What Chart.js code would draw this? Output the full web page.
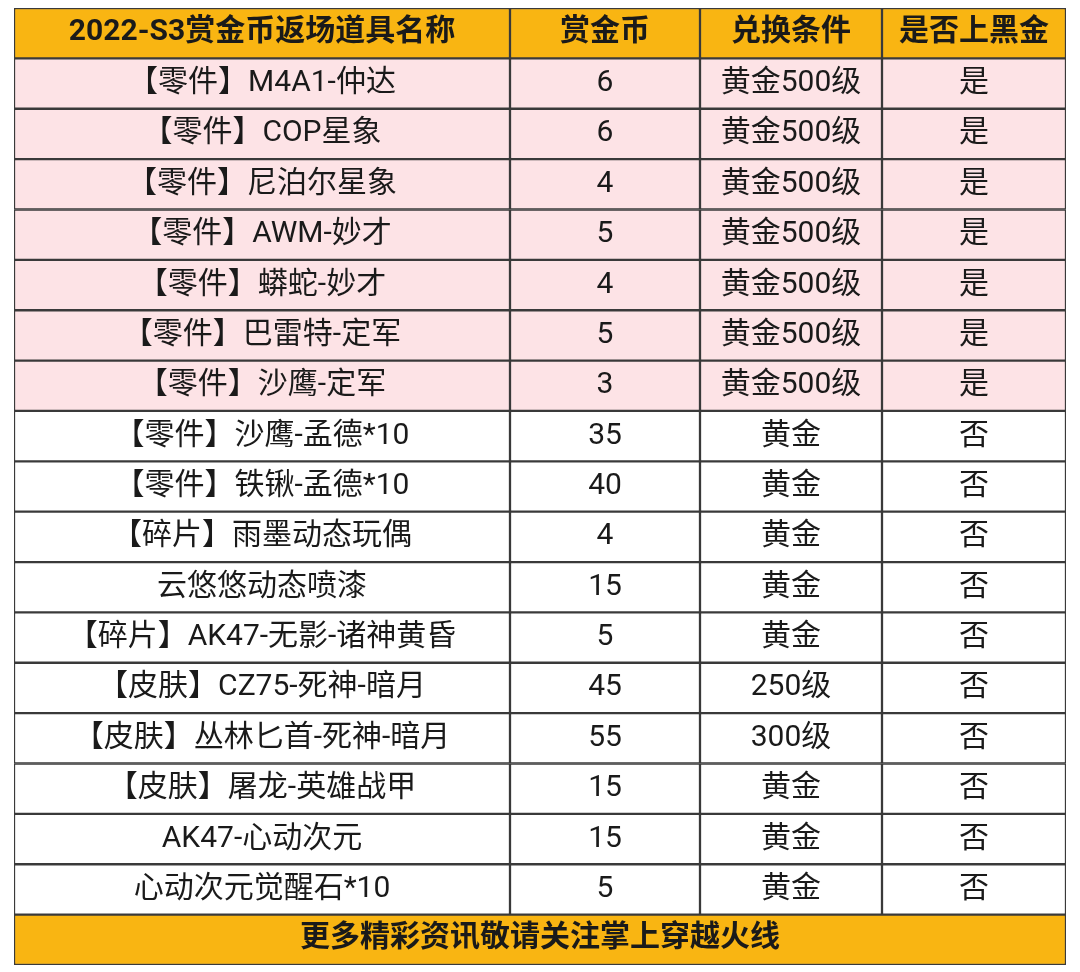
<!DOCTYPE html>
<html><head><meta charset="utf-8">
<script src="https://cdn.jsdelivr.net/npm/chart.js@4"></script>
<style>html,body{margin:0;padding:0;background:#fff}#w{width:1080px;height:972px}</style>
</head><body><div id="w"><canvas id="c"></canvas></div>
<script>
const headers = ["2022-S3赏金币返场道具名称","赏金币","兑换条件","是否上黑金"];
const names = ["【零件】M4A1-仲达","【零件】COP星象","【零件】尼泊尔星象","【零件】AWM-妙才","【零件】蟒蛇-妙才","【零件】巴雷特-定军","【零件】沙鹰-定军","【零件】沙鹰-孟德*10","【零件】铁锹-孟德*10","【碎片】雨墨动态玩偶","云悠悠动态喷漆","【碎片】AK47-无影-诸神黄昏","【皮肤】CZ75-死神-暗月","【皮肤】丛林匕首-死神-暗月","【皮肤】屠龙-英雄战甲","AK47-心动次元","心动次元觉醒石*10"];
const coins = [6,6,4,5,4,5,3,35,40,4,15,5,45,55,15,15,5];
const conditions = ["黄金500级","黄金500级","黄金500级","黄金500级","黄金500级","黄金500级","黄金500级","黄金","黄金","黄金","黄金","黄金","250级","300级","黄金","黄金","黄金"];
const blackGold = ["是","是","是","是","是","是","是","否","否","否","否","否","否","否","否","否","否"];
const footer = "更多精彩资讯敬请关注掌上穿越火线";
const colWidths = [496,190,182,184];

const rows = ["H", ...names.map((n,i)=>"R"+i), "F"];
const edges=[0]; colWidths.forEach(w=>edges.push(edges[edges.length-1]+w));
const total = edges[edges.length-1];
const ORANGE="#f9b512", PINK="#fde3e6";
function rowColor(i){ if(i===0||i===rows.length-1) return ORANGE; return blackGold[i-1]==="是"?PINK:"#ffffff"; }
const colTexts=[names,coins.map(String),conditions,blackGold];
const datasets = colWidths.map((w,c)=>({
  data: rows.map((r,i)=> i===rows.length-1?null:[edges[c],edges[c+1]]),
  backgroundColor: rows.map((r,i)=>rowColor(i)),
  texts: rows.map((r,i)=> i===0?headers[c]:(i===rows.length-1?"":colTexts[c][i-1])),
  borderColor:"#3a3a3a", borderWidth:1.5, borderSkipped:false
}));
datasets.push({
  data: rows.map((r,i)=> i===rows.length-1?[0,total]:null),
  backgroundColor: ORANGE, texts: rows.map((r,i)=> i===rows.length-1?footer:""),
  borderColor:"#3a3a3a", borderWidth:1.5, borderSkipped:false
});
const textPlugin={id:"t",afterDatasetsDraw(ch){
  const ctx=ch.ctx; ctx.save(); ctx.textAlign="center"; ctx.textBaseline="middle";
  ch.data.datasets.forEach((ds,di)=>{
    ch.getDatasetMeta(di).data.forEach((el,i)=>{
      const t=ds.texts[i]; if(!t) return;
      const bold = i===0||i===rows.length-1;
      ctx.font=(bold?"bold 30px":"30px")+" Roboto, 'Noto Sans CJK SC', sans-serif";
      ctx.fillStyle="#1a1a1a";
      ctx.fillText(t,(el.x+el.base)/2,el.y+(bold?-1:0));
    });
  }); ctx.restore();
}};
new Chart(document.getElementById("c"),{
  type:"bar",
  data:{labels:rows,datasets},
  options:{indexAxis:"y",responsive:true,maintainAspectRatio:false,animation:false,
    layout:{padding:{left:14,right:14,top:8,bottom:7}},
    datasets:{bar:{grouped:false,categoryPercentage:1,barPercentage:1}},
    plugins:{legend:{display:false},tooltip:{enabled:false}},
    scales:{x:{display:false,min:0,max:total},y:{display:false}}},
  plugins:[textPlugin]
});
</script></body></html>
